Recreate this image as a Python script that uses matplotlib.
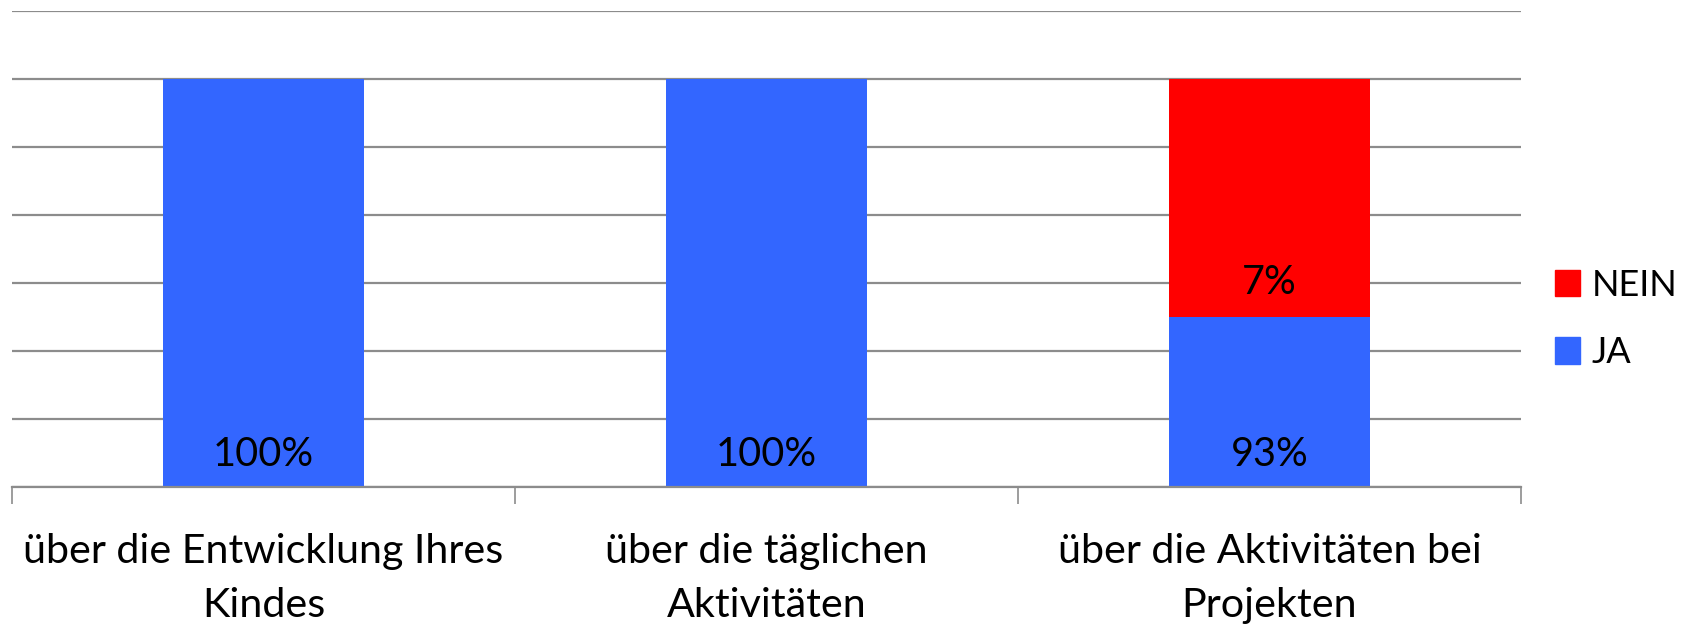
import matplotlib
matplotlib.use("Agg")
import matplotlib.pyplot as plt
from matplotlib.patches import Patch

categories = ["über die Entwicklung Ihres\nKindes", "über die täglichen\nAktivitäten", "über die Aktivitäten bei\nProjekten"]
ja = [100, 100, 93]
nein = [0, 0, 7]
ja_labels = ["100%", "100%", "93%"]
nein_labels = ["", "", "7%"]
y_ticks = [88, 90, 92, 94, 96, 98, 100, 102]

BLUE = "#3366FF"
RED = "#FF0000"
GRID = "#8c8c8c"
FONT = "Lato"

fig = plt.figure(figsize=(16.94, 6.24), dpi=100)
ax = fig.add_axes([12/1694, 1 - 487/624, (1521 - 12)/1694, (487 - 10.8)/624])

x = list(range(len(categories)))
ax.bar(x, ja, width=0.4, color=BLUE, zorder=3)
ax.bar(x, nein, bottom=ja, width=0.4, color=RED, zorder=3)

for xi, lab in zip(x, ja_labels):
    ax.text(xi, 88.95, lab, ha="center", va="center", fontsize=28.5, family=FONT, zorder=4)
for xi, lab, b in zip(x, nein_labels, ja):
    if lab:
        ax.text(xi, 94.0, lab, ha="center", va="center", fontsize=28.5, family=FONT, zorder=4)

ax.set_xlim(-0.5, len(categories) - 0.5)
ax.set_ylim(y_ticks[0], y_ticks[-1])
ax.set_yticks(y_ticks)
ax.yaxis.grid(True, color=GRID, linewidth=1.6, zorder=0)
ax.set_axisbelow(True)
ax.tick_params(axis="y", length=0, labelleft=False)

ax.set_xticks(x)
ax.set_xticklabels(categories, fontsize=29.7, family=FONT, linespacing=1.58)
ax.set_xticks([i - 0.5 for i in range(len(categories) + 1)], minor=True)
ax.tick_params(axis="x", which="major", length=0, pad=33)
ax.tick_params(axis="x", which="minor", length=12, width=1.2, color=GRID, direction="out")

for s in ["left", "right", "top"]:
    ax.spines[s].set_visible(False)
ax.spines["bottom"].set_color(GRID)
ax.spines["bottom"].set_linewidth(1.6)
ax.spines["bottom"].set_zorder(5)

handles = [Patch(color=RED, label="NEIN"), Patch(color=BLUE, label="JA")]
fig.legend(handles=handles, loc="center left", bbox_to_anchor=(1555/1694, 1 - 319/624),
           frameon=False, prop={"family": FONT, "size": 26},
           handlelength=0.7, handleheight=0.75, handletextpad=0.32, labelspacing=0.95,
           borderpad=0, borderaxespad=0)

fig.savefig("out.png", dpi=100)
